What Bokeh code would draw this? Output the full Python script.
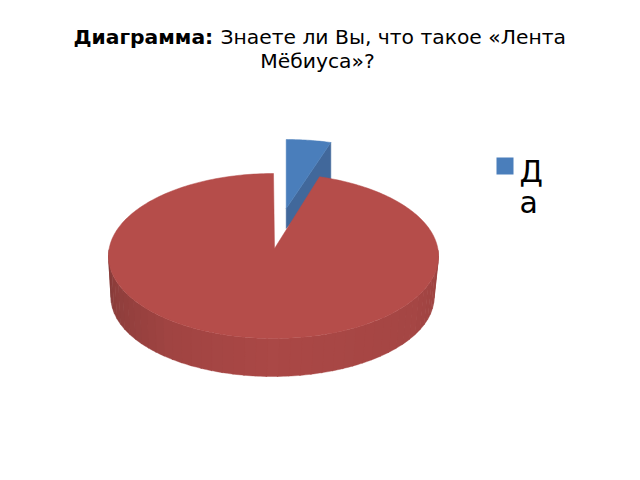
import numpy as np
from bokeh.plotting import figure
from bokeh.embed import file_html
from bokeh.resources import INLINE
from bokeh.core.properties import value

categories = ["Да", "Нет"]
values = [4.5, 95.5]
legend_labels = ["Да"]
title_bold = "Диаграмма:"
title_rest = "Знаете ли Вы, что такое «Лента"
title_line2 = "Мёбиуса»?"

C_BLUE_TOP = "#4a7ebb"
C_BLUE_CUT = "#41689b"
C_RED_TOP = "#b54d4a"
SIDE_STOPS = [(90, (156, 67, 65)), (120, (165, 70, 68)), (180, (170, 72, 70)),
              (220, (160, 68, 66)), (255, (142, 62, 60)), (270, (134, 58, 56))]

p = figure(width=624, height=464, x_range=(0, 624), y_range=(464, 0),
           output_backend="svg", toolbar_location=None, min_border=0)
p.axis.visible = False
p.grid.visible = False
p.outline_line_color = None
p.background_fill_color = "white"
p.border_fill_color = "white"

sweep = values[0] / sum(values) * 360.0


def ell(cx, cy, rx, ry, t):
    r = np.radians(t)
    return cx + rx * np.sin(r), cy - ry * np.cos(r)


# --- "Да" slice, pulled away from the centre
bx, by, brx, bry, bapex = 285.7, 214.0, 160.0, 75.0, 208.0
depth = 38.0
tt = np.linspace(0, sweep, 20)
ax, ay = ell(bx, by, brx, bry, tt)
cx1, cy1 = ell(bx, by, brx, bry, sweep)
p.patch([cx1, bx, bx, cx1], [cy1, bapex, bapex + 20, cy1 + depth],
        fill_color=C_BLUE_CUT, line_color=C_BLUE_CUT, line_width=0.5)
p.patch(list(ax) + [bx], list(ay) + [bapex],
        fill_color=C_BLUE_TOP, line_color=C_BLUE_TOP, line_width=0.5)

# --- "Нет" slice
tcx, tcy, trx, try_ = 273.0, 255.5, 165.0, 82.5
bcx, bcy, brx2, bry2 = 272.0, 297.0, 161.5, 79.0
apx, apy = 274.0, 248.0

edges = np.arange(86, 274.01, 4.0)
stops_t = [s[0] for s in SIDE_STOPS]
for a, b in zip(edges[:-1], edges[1:]):
    m = (a + b) / 2
    col = [int(np.interp(m, stops_t, [s[1][i] for s in SIDE_STOPS])) for i in range(3)]
    hexc = "#%02x%02x%02x" % tuple(col)
    seg = np.linspace(a, b + 0.4, 5)
    x1, y1 = ell(tcx, tcy, trx, try_, seg)
    x2, y2 = ell(bcx, bcy, brx2, bry2, seg[::-1])
    p.patch(list(x1) + list(x2), list(y1) + list(y2), fill_color=hexc, line_color=hexc, line_width=0.4)

tt = np.linspace(sweep, 360, 300)
x1, y1 = ell(tcx, tcy, trx, try_, tt)
p.patch(list(x1) + [apx], list(y1) + [apy], fill_color=C_RED_TOP, line_color=C_RED_TOP, line_width=0.5)

# --- title
font = value("DejaVu Sans")
p.text([73], [36], text=[title_bold], text_font=font, text_font_size="20.3px", text_font_style="bold",
       text_baseline="middle", text_align="left", text_color="black")
p.text([220], [36], text=[title_rest], text_font=font, text_font_size="20.3px",
       text_baseline="middle", text_align="left", text_color="black")
p.text([317], [60], text=[title_line2], text_font=font, text_font_size="20.3px",
       text_baseline="middle", text_align="center", text_color="black")

# --- legend
p.quad(left=[496], right=[513], top=[157], bottom=[174], fill_color=C_BLUE_TOP, line_color=None)
for ch, yy in zip(legend_labels[0], [171, 202]):
    p.text([519], [yy], text=[ch], text_font=font, text_font_size="30px",
           text_baseline="middle", text_align="left", text_color="black")

open("out.html", "w").write(file_html(p, INLINE))
